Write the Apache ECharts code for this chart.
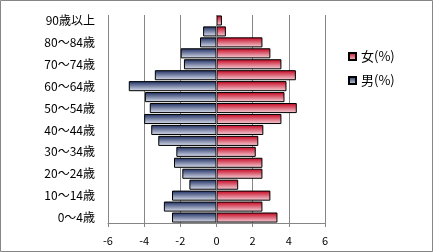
<!DOCTYPE html>
<html><head><meta charset="utf-8">
<script src="https://cdn.jsdelivr.net/npm/echarts@6/dist/echarts.min.js"></script>
<style>html,body{margin:0;padding:0;background:#fff}#c{width:433px;height:252px}</style>
</head><body><div id="c"></div>
<script>
var categories = ["0～4歳","5～9歳","10～14歳","15～19歳","20～24歳","25～29歳","30～34歳","35～39歳","40～44歳","45～49歳","50～54歳","55～59歳","60～64歳","65～69歳","70～74歳","75～79歳","80～84歳","85～89歳","90歳以上"];
var female = [3.37,2.54,2.98,1.2,2.54,2.54,2.17,2.31,2.59,3.59,4.44,3.76,3.87,4.39,3.59,2.98,2.54,0.52,0.3];
var male = [-2.46,-2.91,-2.46,-1.5,-1.89,-2.35,-2.22,-3.22,-3.61,-4.0,-3.69,-3.96,-4.85,-3.41,-1.8,-1.98,-0.91,-0.74,0];
var xTicks = {min:-6, max:6, interval:2};
var font = '"Noto Sans CJK JP", sans-serif';
function grad(c1,c2){return new echarts.graphic.LinearGradient(0,0,0,1,[{offset:0,color:c1},{offset:1,color:c2}]);}
var chart = echarts.init(document.getElementById('c'), null, {renderer:'canvas'});
chart.setOption({
  animation:false,
  textStyle:{fontFamily:font},
  graphic:[{type:'rect',shape:{x:0.5,y:0.5,width:432,height:251},style:{fill:'none',stroke:'#868686',lineWidth:1},z:100}],
  grid:{left:108,top:15,width:217,height:208,containLabel:false},
  legend:{orient:'vertical',left:343,top:45,itemWidth:7,itemHeight:7,itemGap:11,icon:'rect',
    textStyle:{fontFamily:font,fontSize:13,color:'#000'},data:['女(%)','男(%)']},
  xAxis:{type:'value',min:xTicks.min,max:xTicks.max,interval:xTicks.interval,
    axisLine:{show:true,lineStyle:{color:'#868686'}},
    axisTick:{show:true,length:4,lineStyle:{color:'#868686'}},
    axisLabel:{color:'#000',fontSize:11,margin:12,fontFamily:font},
    splitLine:{show:true,lineStyle:{color:'#868686',width:1}}},
  yAxis:{type:'category',data:categories,
    axisLine:{show:false,onZero:false},axisTick:{show:false},
    axisLabel:{interval:1,color:'#000',fontSize:12,margin:13,fontFamily:font}},
  series:[
    {name:'男(%)',type:'bar',data:male,barGap:'-100%',barCategoryGap:'8%',
     itemStyle:{color:grad('#1a2a5e','#dfe4f1'),borderColor:'#000',borderWidth:1},
     markLine:{silent:true,symbol:'none',label:{show:false},lineStyle:{color:'#868686',type:'solid',width:1},data:[{xAxis:0}],z:10}},
    {name:'女(%)',type:'bar',data:female,barGap:'-100%',barCategoryGap:'8%',
     itemStyle:{color:grad('#c4001c','#f6d6dd'),borderColor:'#000',borderWidth:1}}
  ]
});
</script></body></html>
